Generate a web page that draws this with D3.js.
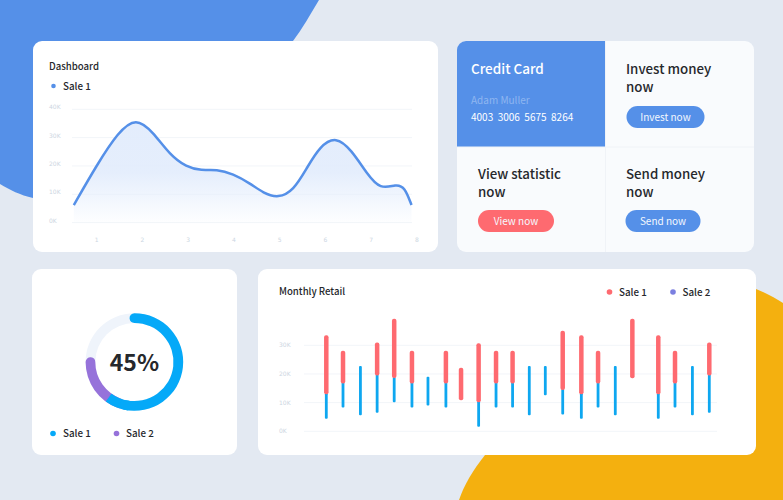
<!DOCTYPE html>
<html><head><meta charset="utf-8">
<script src="https://cdn.jsdelivr.net/npm/d3@7"></script>
<style>html,body{margin:0;padding:0;background:#e3e9f2}svg{display:block}text{font-family:"Noto Sans CJK JP","Noto Sans",sans-serif}text.tick{font-family:"DejaVu Sans",sans-serif}</style>
</head><body><svg id="c" width="783" height="500"></svg>
<script>
const lineX=[0.5,1,1.47,1.86,2.23,2.6,2.96,3.29,3.62,3.98,4.35,4.64,4.97,5.3,5.59,5.88,6.23,6.57,6.9,7.2,7.55,7.73,7.88];
const lineY=[6.2,20.3,32,37.2,32,23.9,19.6,18.3,18.9,17.2,13.9,10.4,8.6,11.3,19.2,27,30.5,25.6,17.4,11.6,13.6,12.6,6.2];
const lineTicksX=[1,2,3,4,5,6,7,8];
const yTicks=[0,10,20,30,40];
const barTicks=[0,10,20,30];
const barPos=[0,0.96,1.96,2.92,3.9,4.92,5.84,6.87,7.74,8.75,9.75,10.7,11.66,12.58,13.58,14.65,15.61,16.6,17.58,19.07,20.03,21.03,22.0];
const saleTop=[33.5,28.1,null,31,39.3,28.1,null,28.1,22.2,30.7,28.1,28.1,null,null,35.1,33.5,28.1,null,39.3,33.5,28.1,null,31];
const saleMid=[12.9,16.7,22.4,19.5,18.6,16.7,18.7,16.7,10.8,10.1,16.7,16.7,22.4,22.4,14.4,12.9,16.7,22.4,18.5,12.9,16.7,22.4,19.5];
const saleLow=[4.4,8.3,5.6,6.5,10.1,8.3,9,8.3,null,1.6,8.3,8.3,5.6,12.6,5.9,4.4,8.3,5.6,null,4.4,8.3,5.6,6.5];
const donutVals=[60,15,25];
const fmt=d=>d+"K";
const svg=d3.select("#c");
const BLUE="#5590e8",RED="#fe6a70",CYAN="#05a9f8",BARCYAN="#0ea7f0",PURPLE="#9672da",INK="#26282c",TICK="#ccd6e2",GRID="#f2f5f9";

svg.append("path").attr("d","M0,0H319C310,15 302,29 293,41L250,150L33,198C20,195 10,190 0,184Z").attr("fill",BLUE);
svg.append("path").attr("d","M783,500H459C464,485 473,470 485,455L600,340L756,289C766,293 775,298 783,303Z").attr("fill","#f4b00f");

function card(x,y,w,h,f="#fff"){svg.append("rect").attr("x",x).attr("y",y).attr("width",w).attr("height",h).attr("rx",9).attr("fill",f);}
function txt(x,y,s,size,fill,w=500,anchor="start"){return svg.append("text").attr("x",x).attr("y",y).attr("font-size",size).attr("fill",fill).attr("font-weight",w).attr("text-anchor",anchor).text(s);}
function two(x,y,a,b,size,fill){const t=svg.append("text").attr("font-size",size).attr("fill",fill).attr("font-weight",500);t.append("tspan").attr("x",x).attr("y",y).text(a);t.append("tspan").attr("x",x).attr("y",y+18).text(b);}
card(33,41,405,211);card(457,41,297,211,"#f9fbfd");card(32,269,205,186);card(258,269,498,186);

// line chart
txt(49,70,"Dashboard",9.6,INK);
svg.append("circle").attr("cx",53.5).attr("cy",86).attr("r",2.3).attr("fill",BLUE);
txt(63,89.5,"Sale 1",9.8,INK);
const x1=d3.scaleLinear().domain([1,8]).range([96.7,417]);
const y1=d3.scaleLinear().domain([0,40]).range([222.6,109.3]);
const g1=svg.append("g");
g1.selectAll("line").data(yTicks).join("line").attr("x1",72).attr("x2",412).attr("y1",y1).attr("y2",y1).attr("stroke",GRID);
g1.selectAll("text.y").data(yTicks).join("text").attr("class","y tick").attr("x",49).attr("y",d=>y1(d)+0).attr("font-size",6).attr("fill",TICK).text(fmt);
g1.selectAll("text.x").data(lineTicksX).join("text").attr("class","x tick").attr("x",x1).attr("y",241.5).attr("font-size",6).attr("fill",TICK).attr("text-anchor","middle").text(d=>d);
const grad=svg.append("defs").append("linearGradient").attr("id","gr").attr("x1",0).attr("x2",0).attr("y1",0).attr("y2",1);
grad.append("stop").attr("offset",0).attr("stop-color","#e2ecfc").attr("stop-opacity",.95);
grad.append("stop").attr("offset",0.5).attr("stop-color","#e2ecfc").attr("stop-opacity",.9);
grad.append("stop").attr("offset",1).attr("stop-color","#e2ecfc").attr("stop-opacity",.05);
const pts=lineX.map((d,i)=>[d,lineY[i]]);
const cv=d3.curveBasis;
svg.append("path").datum(pts).attr("fill","url(#gr)").attr("d",d3.area().x(d=>x1(d[0])).y1(d=>y1(d[1])).y0(y1(0)).curve(cv));
svg.append("path").datum(pts).attr("fill","none").attr("stroke",BLUE).attr("stroke-width",2.5).attr("d",d3.line().x(d=>x1(d[0])).y(d=>y1(d[1])).curve(cv));

// cards panel
svg.append("path").attr("d","M457,50a9,9 0 0 1 9,-9H605V147H457Z").attr("fill",BLUE);
svg.append("line").attr("x1",605.5).attr("x2",605.5).attr("y1",41).attr("y2",252).attr("stroke","#f0f3f7");
svg.append("line").attr("x1",457).attr("x2",754).attr("y1",147).attr("y2",147).attr("stroke","#f0f3f7");
txt(471,74,"Credit Card",13.5,"#fff");
txt(471,104,"Adam Muller",10,"#8fb6f0",400);
txt(471,121,"4003  3006  5675  8264",10,"#fff",400).style("white-space","pre");
function btn(x,y,w,f,s){svg.append("rect").attr("x",x).attr("y",y).attr("width",w).attr("height",22).attr("rx",11).attr("fill",f);txt(x+w/2,y+14.5,s,10,"#f4f8fe",400,"middle");}
two(626,74,"Invest money","now",13.3,INK);btn(626.5,106,78,BLUE,"Invest now");
two(478,179,"View statistic","now",13.3,INK);btn(478,210,76,RED,"View now");
two(626,179,"Send money","now",13.3,INK);btn(625.5,210,75,BLUE,"Send now");

// donut
const cx=134.4,cy=362,R=48.8,T=9.7,cap=0.11;
const a=d3.arc().innerRadius(R-T).outerRadius(R);
const dg=svg.append("g").attr("transform",`translate(${cx},${cy})`);
const tot=d3.sum(donutVals),ang=d=>d/tot*2*Math.PI;
dg.append("path").attr("d",a({startAngle:0,endAngle:2*Math.PI})).attr("fill","#eff4fb");
dg.append("path").attr("d",a.cornerRadius(T/2)({startAngle:ang(donutVals[0])-0.4,endAngle:ang(donutVals[0]+donutVals[1])+cap})).attr("fill",PURPLE);
dg.append("path").attr("d",a.cornerRadius(0)({startAngle:ang(donutVals[0])-0.5,endAngle:ang(donutVals[0])})).attr("fill",CYAN);
dg.append("path").attr("d",a.cornerRadius(T/2)({startAngle:-cap,endAngle:ang(donutVals[0])-0.3})).attr("fill",CYAN);
txt(cx,370.5,"45%",23,INK,700,"middle");
svg.append("circle").attr("cx",53).attr("cy",433.5).attr("r",2.8).attr("fill",CYAN);txt(63,437,"Sale 1",9.8,INK);
svg.append("circle").attr("cx",116.5).attr("cy",433.5).attr("r",2.8).attr("fill",PURPLE);txt(126,437,"Sale 2",9.8,INK);

// bars
txt(279,295,"Monthly Retail",9.6,INK);
svg.append("circle").attr("cx",609.5).attr("cy",292).attr("r",2.8).attr("fill",RED);txt(619,295.5,"Sale 1",9.8,INK);
svg.append("circle").attr("cx",673).attr("cy",292).attr("r",2.8).attr("fill","#7b7fe0");txt(682.5,295.5,"Sale 2",9.8,INK);
const x2=d3.scaleLinear().domain([0,22]).range([326.3,709.3]);
const y2=d3.scaleLinear().domain([0,30]).range([431.3,345.3]);
const g2=svg.append("g");
g2.selectAll("line").data(barTicks).join("line").attr("x1",304).attr("x2",717).attr("y1",y2).attr("y2",y2).attr("stroke",GRID);
g2.selectAll("text").data(barTicks).join("text").attr("class","tick").attr("x",279).attr("y",d=>y2(d)+2).attr("font-size",6).attr("fill",TICK).text(fmt);
barPos.forEach((p,i)=>{
 if(saleLow[i]!=null) svg.append("rect").attr("x",x2(p)-1.4).attr("width",2.8).attr("y",y2(saleMid[i])-1).attr("height",y2(saleLow[i])-y2(saleMid[i])+1).attr("rx",1).attr("fill",BARCYAN);
 if(saleTop[i]!=null) svg.append("rect").attr("x",x2(p)-2.25).attr("width",4.5).attr("y",y2(saleTop[i])).attr("height",y2(saleMid[i])-y2(saleTop[i])).attr("rx",2).attr("fill",RED);
});
</script></body></html>
